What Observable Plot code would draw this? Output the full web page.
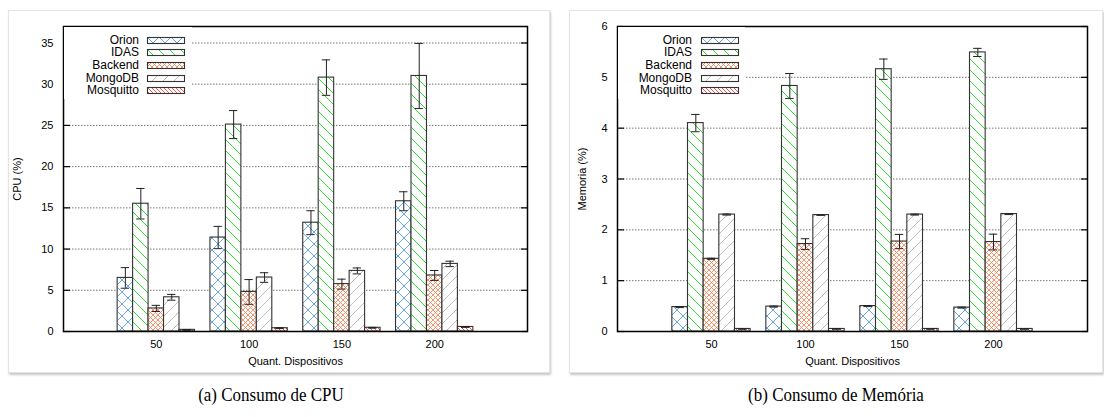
<!DOCTYPE html>
<html>
<head>
<meta charset="utf-8">
<script src="https://cdn.jsdelivr.net/npm/d3@7"></script>
<script src="https://cdn.jsdelivr.net/npm/@observablehq/plot@0.6"></script>
<style>
  html, body { margin: 0; padding: 0; background: #fff; }
  #page { position: relative; width: 1104px; height: 417px; overflow: hidden; background: #fff; font-family: "Liberation Sans", Arial, sans-serif; }
  .panel { position: absolute; background: #fff; border: 1px solid #e4e4e4; box-shadow: 1px 2px 2px rgba(0,0,0,0.22); box-sizing: border-box; }
  .plotwrap { position: absolute; }
  .legend { position: absolute; background: #fff; }
  .legend .lab { position: absolute; font-size: 12px; line-height: 12px; text-align: right; color: #000; white-space: nowrap; }
  .legend svg { position: absolute; overflow: visible; }
  .caption { position: absolute; font-family: "Liberation Serif", "Times New Roman", serif; font-size: 19.5px; line-height: 20px; color: #000; white-space: nowrap; transform: translateX(-50%) scaleX(0.87); }
</style>
</head>
<body>
<div id="page">
  <svg width="0" height="0" style="position:absolute">
    <defs>
      <pattern id="p-orion" patternUnits="userSpaceOnUse" width="12" height="12">
        <rect width="12" height="12" fill="#fff"/>
        <path d="M0,0L12,12M12,0L0,12" stroke="#5a9ee0" stroke-width="0.9" fill="none"/>
      </pattern>
      <pattern id="p-idas" patternUnits="userSpaceOnUse" width="11" height="11">
        <rect width="11" height="11" fill="#fff"/>
        <path d="M0,0L11,11M-3,8L3,14M8,-3L14,3" stroke="#2de02d" stroke-width="1" fill="none"/>
      </pattern>
      <pattern id="p-backend" patternUnits="userSpaceOnUse" width="5" height="5">
        <rect width="5" height="5" fill="#fff"/>
        <path d="M0,0L5,5M5,0L0,5" stroke="#f47a4a" stroke-width="0.8" fill="none"/>
      </pattern>
      <pattern id="p-mongo" patternUnits="userSpaceOnUse" width="11" height="11">
        <rect width="11" height="11" fill="#fff"/>
        <path d="M0,11L11,0M-3,3L3,-3M8,14L14,8" stroke="#bdbdbd" stroke-width="1" fill="none"/>
      </pattern>
      <pattern id="p-mosq" patternUnits="userSpaceOnUse" width="4" height="4">
        <rect width="4" height="4" fill="#fff"/>
        <path d="M0,0L4,4M-1,3L1,5M3,-1L5,1" stroke="#ec2a2a" stroke-width="0.8" fill="none"/>
      </pattern>
    </defs>
  </svg>
  <div class="panel" style="left:8px;top:10px;width:542px;height:363px;"></div>
  <div class="panel" style="left:569px;top:10px;width:534px;height:363px;"></div>
  <div class="plotwrap" id="cpu" style="left:8px;top:10px;"></div>
  <div class="plotwrap" id="mem" style="left:569px;top:10px;"></div>
  <div class="legend" id="legCpu" style="left:64px;top:27px;width:128px;height:72px;"></div>
  <div class="legend" id="legMem" style="left:618px;top:27px;width:127px;height:72px;"></div>
  <div class="caption" style="left:271px;top:385px;">(a) Consumo de CPU</div>
  <div class="caption" style="left:836px;top:385px;">(b) Consumo de Memória</div>
</div>
<script>
// ---- data ----
const groups = ["50", "100", "150", "200"];
const series = ["Orion", "IDAS", "Backend", "MongoDB", "Mosquitto"];
const patterns = ["url(#p-orion)", "url(#p-idas)", "url(#p-backend)", "url(#p-mongo)", "url(#p-mosq)"];

const cpuOrion = [6.5, 11.4, 13.2, 15.8];
const cpuIDAS = [15.5, 25.1, 30.8, 31.0];
const cpuBackend = [2.8, 4.8, 5.75, 6.8];
const cpuMongoDB = [4.15, 6.55, 7.35, 8.2];
const cpuMosquitto = [0.2, 0.4, 0.45, 0.55];
const cpuOrionErr = [1.25, 1.35, 1.45, 1.15];
const cpuIDASErr = [1.85, 1.7, 2.15, 3.95];
const cpuBackendErr = [0.37, 1.5, 0.6, 0.6];
const cpuMongoDBErr = [0.35, 0.58, 0.36, 0.33];
const cpuMosquittoErr = [0.04, 0.05, 0.05, 0.05];

const memOrion = [0.48, 0.49, 0.50, 0.47];
const memIDAS = [4.1, 4.83, 5.16, 5.49];
const memBackend = [1.43, 1.72, 1.77, 1.76];
const memMongoDB = [2.30, 2.29, 2.30, 2.31];
const memMosquitto = [0.05, 0.05, 0.05, 0.05];
const memOrionErr = [0.01, 0.01, 0.01, 0.01];
const memIDASErr = [0.17, 0.245, 0.2, 0.08];
const memBackendErr = [0.01, 0.105, 0.14, 0.155];
const memMongoDBErr = [0.01, 0.005, 0.01, 0.01];
const memMosquittoErr = [0.005, 0.005, 0.005, 0.005];

const cpuTicks = [0, 5, 10, 15, 20, 25, 30, 35];
const memTicks = [0, 1, 2, 3, 4, 5, 6];

// ---- build tables ----
function table(values, errs) {
  const rows = [];
  groups.forEach((g, i) => {
    series.forEach((s, j) => {
      const c = i + (j - 2) / 6;
      rows.push({group: g, series: s, x1: c - 1 / 12, x2: c + 1 / 12, c, v: values[j][i], e: errs[j][i]});
    });
  });
  return rows;
}
const cpuData = table([cpuOrion, cpuIDAS, cpuBackend, cpuMongoDB, cpuMosquitto],
                      [cpuOrionErr, cpuIDASErr, cpuBackendErr, cpuMongoDBErr, cpuMosquittoErr]);
const memData = table([memOrion, memIDAS, memBackend, memMongoDB, memMosquitto],
                      [memOrionErr, memIDASErr, memBackendErr, memMongoDBErr, memMosquittoErr]);

const tickFont = '"Liberation Sans Narrow", "Liberation Sans", Arial, sans-serif';

function chart(data, {width, marginLeft, marginRight, yDomain, yTicks, ylabel, ylabelOffset}) {
  return Plot.plot({
    width, height: 362,
    marginLeft, marginRight, marginTop: 16, marginBottom: 41,
    style: {fontFamily: tickFont, fontSize: "11px", background: "transparent", color: "#000", overflow: "visible"},
    x: {type: "linear", domain: [-1, 4]},
    y: {domain: yDomain},
    color: {type: "ordinal", domain: series, range: patterns},
    marks: [
      Plot.gridY(yTicks, {stroke: "#555", strokeOpacity: 1, strokeWidth: 0.8, strokeDasharray: "1.5,1.5"}),
      Plot.rectY(data, {x1: "x1", x2: "x2", y1: 0, y2: "v", fill: "series", stroke: "#333", strokeWidth: 1.1}),
      Plot.ruleX(data, {x: "c", y1: d => d.v - d.e, y2: d => d.v + d.e, stroke: "#222", strokeWidth: 1}),
      Plot.ruleY(data, {y: d => d.v - d.e, x1: d => d.c - 0.045, x2: d => d.c + 0.045, stroke: "#222", strokeWidth: 1}),
      Plot.ruleY(data, {y: d => d.v + d.e, x1: d => d.c - 0.045, x2: d => d.c + 0.045, stroke: "#222", strokeWidth: 1}),
      Plot.axisY(yTicks, {anchor: "left", tickSize: 0, tickPadding: 10, tickFormat: d => String(d), label: ylabel, labelAnchor: "center", labelOffset: ylabelOffset, labelArrow: "none"}),
      Plot.axisY(yTicks, {anchor: "left", tickSize: 7, dx: 7, tickFormat: () => "", label: null, stroke: "#000", strokeWidth: 1.2}),
      Plot.axisY(yTicks, {anchor: "right", tickSize: 7, dx: -7, tickFormat: () => "", label: null, stroke: "#000", strokeWidth: 1.2}),
      Plot.axisX([0, 1, 2, 3], {tickSize: 0, tickPadding: 9, tickFormat: i => groups[i], label: "Quant. Dispositivos", labelAnchor: "center", labelOffset: 33, labelArrow: "none"}),
      Plot.frame({stroke: "#000", strokeWidth: 1.5})
    ]
  });
}

document.getElementById("cpu").append(chart(cpuData, {width: 542, marginLeft: 55, marginRight: 23, yDomain: [0, 37], yTicks: cpuTicks, ylabel: "CPU (%)", ylabelOffset: 50}));
document.getElementById("mem").append(chart(memData, {width: 533, marginLeft: 48, marginRight: 15, yDomain: [0, 6], yTicks: memTicks, ylabel: "Memoria (%)", ylabelOffset: 39}));

function legend(id) {
  const el = document.getElementById(id);
  series.forEach((s, j) => {
    const cy = 13 + j * 12.7;
    const lab = document.createElement("div");
    lab.className = "lab";
    lab.style.right = (128 - 75) + "px";
    lab.style.top = (cy - 6.5) + "px";
    lab.textContent = s;
    el.append(lab);
    const sw = d3.create("svg").attr("width", 38).attr("height", 7)
      .style("left", "83px").style("top", (cy - 3.5) + "px");
    sw.append("rect").attr("x", 0.5).attr("y", 0.5).attr("width", 37).attr("height", 6)
      .attr("fill", patterns[j]).attr("stroke", "#333").attr("stroke-width", 1.1);
    el.append(sw.node());
  });
}
legend("legCpu");
legend("legMem");
</script>
</body>
</html>
